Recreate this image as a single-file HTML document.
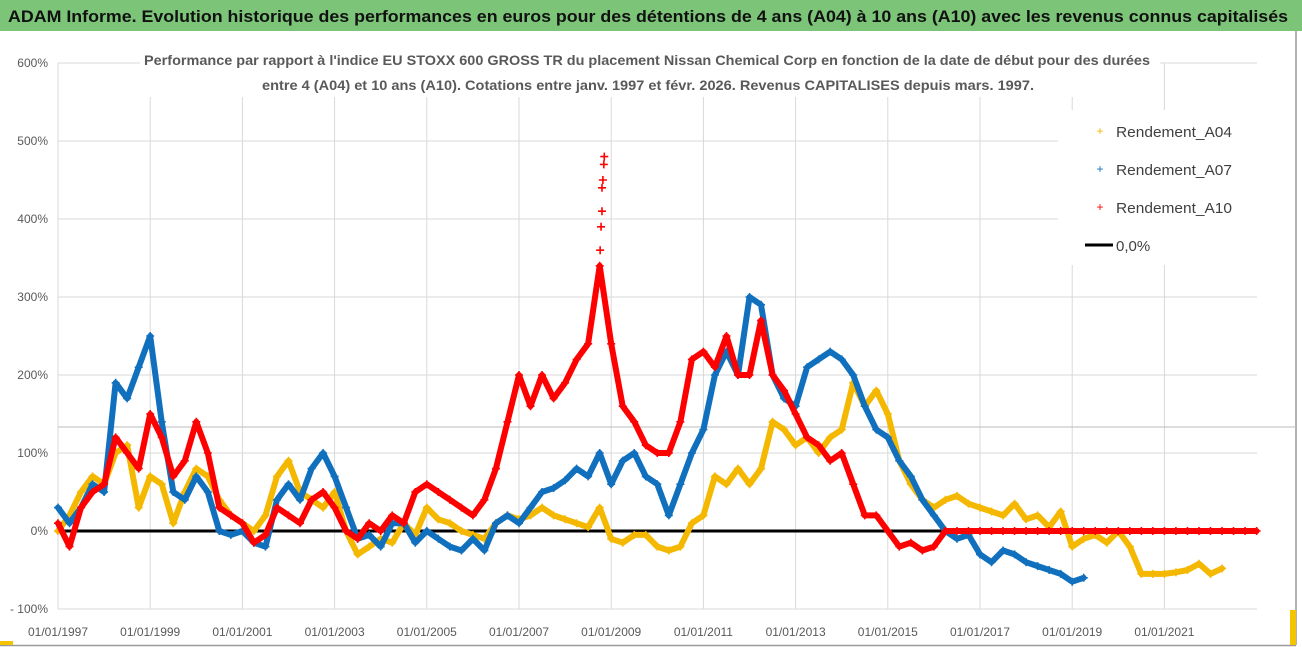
<!DOCTYPE html>
<html><head><meta charset="utf-8"><style>
html,body{margin:0;padding:0;background:#fff;}
svg{display:block;font-family:"Liberation Sans",sans-serif;}
</style></head><body>
<svg id="chart" width="1302" height="647" viewBox="0 0 1302 647">
<rect x="0" y="0" width="1302" height="647" fill="#fff"/>
<rect x="0" y="0" width="1302" height="31" fill="#7cc478"/>
<text x="8" y="22" font-size="17" font-weight="bold" fill="#111" textLength="1280" lengthAdjust="spacingAndGlyphs">ADAM Informe. Evolution historique des performances en euros pour des détentions de 4 ans (A04) à 10 ans (A10) avec les revenus connus capitalisés</text>
<line x1="1296" y1="31" x2="1296" y2="645" stroke="#999" stroke-width="1.5"/>
<line x1="0" y1="645.5" x2="1296" y2="645.5" stroke="#999" stroke-width="1.5"/>
<rect x="1290" y="610" width="6" height="35" fill="#f5c400"/>
<rect x="0" y="641" width="13" height="4" fill="#f5c400"/>
<g id="grid"></g>
<line x1="58" y1="427" x2="1296" y2="427" stroke="#bbb" stroke-width="1"/>
<g id="axes"></g>
<g id="marks"></g>
<rect x="140" y="45" width="1020" height="52" fill="#fff"/>
<text x="647" y="65" text-anchor="middle" font-size="14" font-weight="bold" fill="#595959" textLength="1006" lengthAdjust="spacingAndGlyphs">Performance par rapport à l'indice EU STOXX 600 GROSS TR  du placement Nissan Chemical Corp en fonction de la date de début pour des durées</text>
<text x="648" y="90" text-anchor="middle" font-size="14" font-weight="bold" fill="#595959" textLength="772" lengthAdjust="spacingAndGlyphs">entre 4 (A04) et 10 ans (A10). Cotations entre janv. 1997 et févr. 2026. Revenus CAPITALISES depuis mars. 1997.</text>
<g>
<rect x="1058" y="110" width="210" height="155" fill="#fff"/>
<g><text x="1100" y="135" font-size="12" fill="#f5b800" text-anchor="middle">+</text><text x="1116" y="137" font-size="15" fill="#404040" textLength="116" lengthAdjust="spacingAndGlyphs">Rendement_A04</text></g>
<g><text x="1100" y="173" font-size="12" fill="#1170bd" text-anchor="middle">+</text><text x="1116" y="175" font-size="15" fill="#404040" textLength="116" lengthAdjust="spacingAndGlyphs">Rendement_A07</text></g>
<g><text x="1100" y="211" font-size="12" fill="#f00" text-anchor="middle">+</text><text x="1116" y="213" font-size="15" fill="#404040" textLength="116" lengthAdjust="spacingAndGlyphs">Rendement_A10</text></g>
<g><line x1="1085" y1="245" x2="1113" y2="245" stroke="#000" stroke-width="3"/><text x="1116" y="251" font-size="15" fill="#404040">0,0%</text></g>
</g>
</svg>
<script>
const startYear = 1997, stepYear = 0.25;
const yTicks = [-100,0,100,200,300,400,500,600];
const yTickLabels = ["- 100%","0%","100%","200%","300%","400%","500%","600%"];
const xTickYears = [1997,1999,2001,2003,2005,2007,2009,2011,2013,2015,2017,2019,2021];
const xTickLabels = ["01/01/1997","01/01/1999","01/01/2001","01/01/2003","01/01/2005","01/01/2007","01/01/2009","01/01/2011","01/01/2013","01/01/2015","01/01/2017","01/01/2019","01/01/2021"];
const a04 = [0,20,50,70,60,100,110,30,70,60,10,50,80,70,40,20,10,0,20,70,90,50,40,30,50,0,-30,-20,-10,-15,10,-5,30,15,10,0,-5,-10,10,20,15,20,30,20,15,10,5,30,-10,-15,-5,-5,-20,-25,-20,10,20,70,60,80,60,80,140,130,110,120,100,120,130,190,160,180,150,90,60,40,30,40,45,35,30,25,20,35,15,20,5,25,-20,-10,-5,-15,0,-20,-55,-55,-55,-53,-50,-42,-55,-48];
const a07 = [30,10,30,60,50,190,170,210,250,140,50,40,70,50,0,-5,0,-15,-20,40,60,40,80,100,70,30,-10,-5,-20,10,10,-15,0,-10,-20,-25,-10,-25,10,20,10,30,50,55,65,80,70,100,60,90,100,70,60,20,60,100,130,200,230,200,300,290,200,170,160,210,220,230,220,200,160,130,120,90,70,40,20,0,-10,-5,-30,-40,-25,-30,-40,-45,-50,-55,-65,-60];
const a10 = [10,-20,30,50,60,120,100,80,150,120,70,90,140,100,30,20,10,-15,-5,30,20,10,40,50,30,0,-10,10,0,20,10,50,60,50,40,30,20,40,80,140,200,160,200,170,190,220,240,340,240,160,140,110,100,100,140,220,230,210,250,200,200,270,200,180,150,120,110,90,100,60,20,20,0,-20,-15,-25,-20,0,0,0,0,0,0,0,0,0,0,0,0,0,0,0,0,0,0,0,0,0,0,0,0,0,0,0,0];
const spikeYears = [2008.76,2008.78,2008.8,2008.8,2008.82,2008.84,2008.85];
const spikeValues = [360,390,410,440,450,470,480];

const X0 = 58, X1 = 1257, Y0 = 531, pxPerYear = (1164.4 - 58) / 24, pxPerPct = 0.78;
const xs = t => X0 + (t - startYear) * pxPerYear;
const ys = v => Y0 - v * pxPerPct;
const NS = "http://www.w3.org/2000/svg";
function mk(tag, attrs, parent) {
  const e = document.createElementNS(NS, tag);
  for (const k in attrs) e.setAttribute(k, attrs[k]);
  parent.appendChild(e);
  return e;
}
const grid = document.getElementById('grid'), axes = document.getElementById('axes'), marks = document.getElementById('marks');
yTicks.forEach((v, i) => {
  const gl = mk('line', {x1: X0, x2: X1, y1: ys(v), y2: ys(v), stroke: '#d9d9d9', 'stroke-width': 1}, grid);
  
  
  const t = mk('text', {x: 48, y: ys(v) + 4, 'text-anchor': 'end', 'font-size': 12, fill: '#595959'}, axes);
  t.textContent = yTickLabels[i];
  
  
});
xTickYears.forEach((yr, i) => {
  const gl = mk('line', {x1: xs(yr), x2: xs(yr), y1: ys(600), y2: ys(-100), stroke: '#d9d9d9', 'stroke-width': 1}, grid);
  
  
  const t = mk('text', {x: xs(yr), y: 636, 'text-anchor': 'middle', 'font-size': 12, fill: '#595959'}, axes);
  t.textContent = xTickLabels[i];
  
  
});
const zl = mk('line', {x1: X0, x2: X1, y1: ys(0), y2: ys(0), stroke: '#000', 'stroke-width': 3}, marks);



function drawSeries(vals, color, name) {
  const g = mk('g', {}, marks);
  
  
  const pts = vals.map((v, i) => xs(startYear + i * stepYear).toFixed(1) + ',' + ys(v).toFixed(1)).join(' ');
  mk('polyline', {points: pts, fill: 'none', stroke: color, 'stroke-width': 6, 'stroke-linejoin': 'round', 'stroke-linecap': 'round'}, g);
  vals.forEach((v, i) => {
    const x = xs(startYear + i * stepYear), y = ys(v);
    const p = mk('path', {d: `M${x-4},${y}H${x+4}M${x},${y-4}V${y+4}`, stroke: color, 'stroke-width': 1.6}, g);
    
    
  });
}
drawSeries(a04, '#f5b800', 'series-a04');
drawSeries(a07, '#1170bd', 'series-a07');
drawSeries(a10, '#f00', 'series-a10');
spikeYears.forEach((t, i) => {
  const x = xs(t), y = ys(spikeValues[i]);
  const p = mk('path', {d: `M${x-4},${y}H${x+4}M${x},${y-4}V${y+4}`, stroke: '#f00', 'stroke-width': 1.6}, marks);
  
  
});
</script>
</body></html>
